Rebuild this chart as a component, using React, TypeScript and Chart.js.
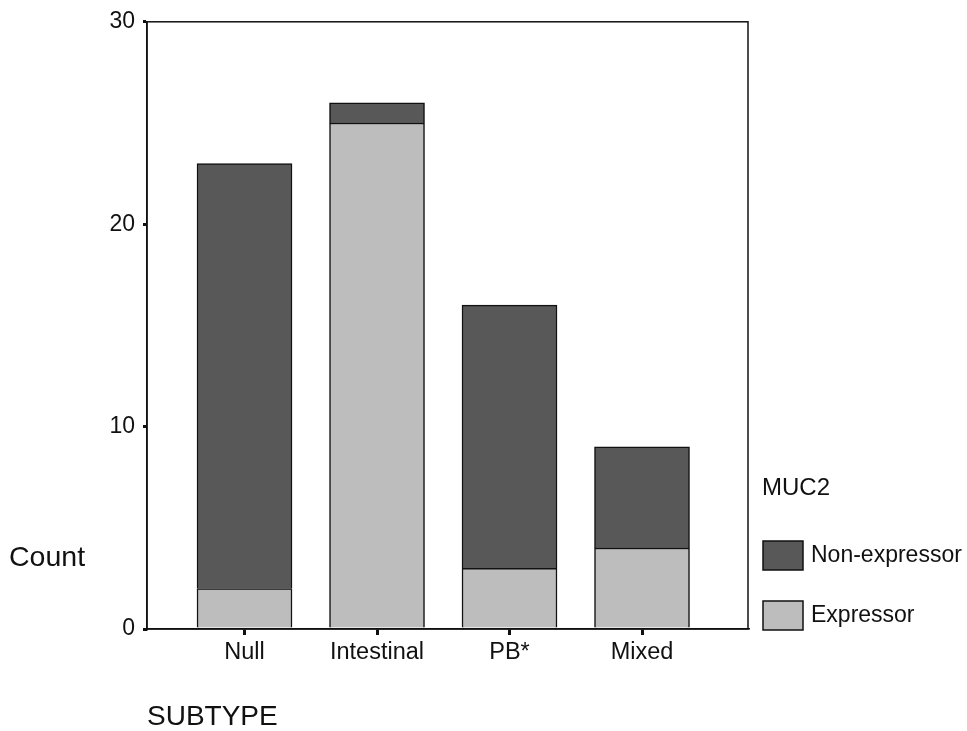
import { useEffect, useRef } from 'react';
import { Chart, registerables } from 'chart.js';

Chart.register(...registerables);

const categories = ['Null', 'Intestinal', 'PB*', 'Mixed'];
const expressor = [2, 25, 3, 4];
const nonExpressor = [21, 1, 13, 5];
const seriesNames = ['Expressor', 'Non-expressor'];
const seriesColors = ['#bdbdbd', '#585858'];
const yTicks = [0, 10, 20, 30];
const xTitle = 'SUBTYPE';
const yTitle = 'Count';
const legendTitle = 'MUC2';

const FONT = '"Liberation Sans", Arial, Helvetica, sans-serif';
const INK = '#111111';

export default function App() {
  const ref = useRef<HTMLCanvasElement>(null);

  useEffect(() => {
    document.body.style.margin = '0';
    const canvas = ref.current;
    if (!canvas) return;

    const decor = {
      id: 'decor',
      afterDraw(chart: any) {
        const { ctx, chartArea: a } = chart;
        ctx.save();
        ctx.strokeStyle = INK;
        ctx.lineWidth = 1.5;
        ctx.strokeRect(a.left, a.top, a.right - a.left, a.bottom - a.top);

        ctx.fillStyle = INK;
        ctx.textAlign = 'left';
        ctx.textBaseline = 'middle';
        ctx.font = `28.5px ${FONT}`;
        ctx.fillText(yTitle, 9, a.bottom - 71);

        const lx = a.right + 15;
        ctx.font = `24px ${FONT}`;
        ctx.fillText(legendTitle, lx - 1, a.bottom - 141);

        ctx.font = `23px ${FONT}`;
        chart.data.datasets.forEach((ds: any, i: number) => {
          const top = a.bottom - 28 - i * 60;
          ctx.fillStyle = ds.backgroundColor;
          ctx.fillRect(lx, top, 40, 29);
          ctx.strokeStyle = INK;
          ctx.lineWidth = 1.5;
          ctx.strokeRect(lx, top, 40, 29);
          ctx.fillStyle = INK;
          ctx.fillText(ds.label, lx + 48, top + 15);
        });
        ctx.restore();
      },
    };

    const chart = new Chart(canvas, {
      type: 'bar',
      data: {
        datasets: [
          {
            label: seriesNames[0],
            data: expressor.map((v, i) => ({ x: i, y: v })),
            backgroundColor: seriesColors[0],
            borderColor: INK,
            borderWidth: 1.5,
            barThickness: 95,
          },
          {
            label: seriesNames[1],
            data: nonExpressor.map((v, i) => ({ x: i, y: v })),
            backgroundColor: seriesColors[1],
            borderColor: INK,
            borderWidth: 1.5,
            barThickness: 95,
          },
        ],
      } as any,
      options: {
        animation: false,
        responsive: false,
        devicePixelRatio: 1,
        layout: { padding: { top: 21, right: 219, left: 0, bottom: 0 } },
        plugins: { legend: { display: false }, tooltip: { enabled: false } },
        scales: {
          x: {
            type: 'linear',
            stacked: true,
            offset: false,
            min: -0.736,
            max: 3.8,
            afterBuildTicks: (s: any) => {
              s.ticks = categories.map((_, i) => ({ value: i }));
            },
            afterFit: (s: any) => {
              s.height = 102;
            },
            ticks: {
              callback: (v: any) => categories[Math.round(Number(v))] ?? '',
              font: { size: 23.5, family: FONT },
              color: INK,
              padding: 3,
              maxRotation: 0,
              autoSkip: false,
            },
            grid: { offset: false, drawOnChartArea: false, drawTicks: true, tickLength: 6, lineWidth: 3, color: INK },
            border: { display: true, color: INK, width: 1.5 },
            title: {
              display: true,
              text: xTitle,
              align: 'start',
              color: INK,
              font: { size: 28, family: FONT, lineHeight: 1 },
              padding: { top: 0, bottom: 0 },
            },
          },
          y: {
            stacked: true,
            min: 0,
            max: 30,
            afterBuildTicks: (s: any) => {
              s.ticks = yTicks.map((v) => ({ value: v }));
            },
            afterFit: (s: any) => {
              s.width = 147;
            },
            ticks: { font: { size: 23, family: FONT }, color: INK, padding: 8 },
            grid: { drawOnChartArea: false, drawTicks: true, tickLength: 4, lineWidth: 3, color: INK },
            border: { display: true, color: INK, width: 1.5 },
          },
        },
      } as any,
      plugins: [decor],
    });

    return () => chart.destroy();
  }, []);

  return <canvas ref={ref} width={967} height={731} style={{ display: 'block' }} />;
}
